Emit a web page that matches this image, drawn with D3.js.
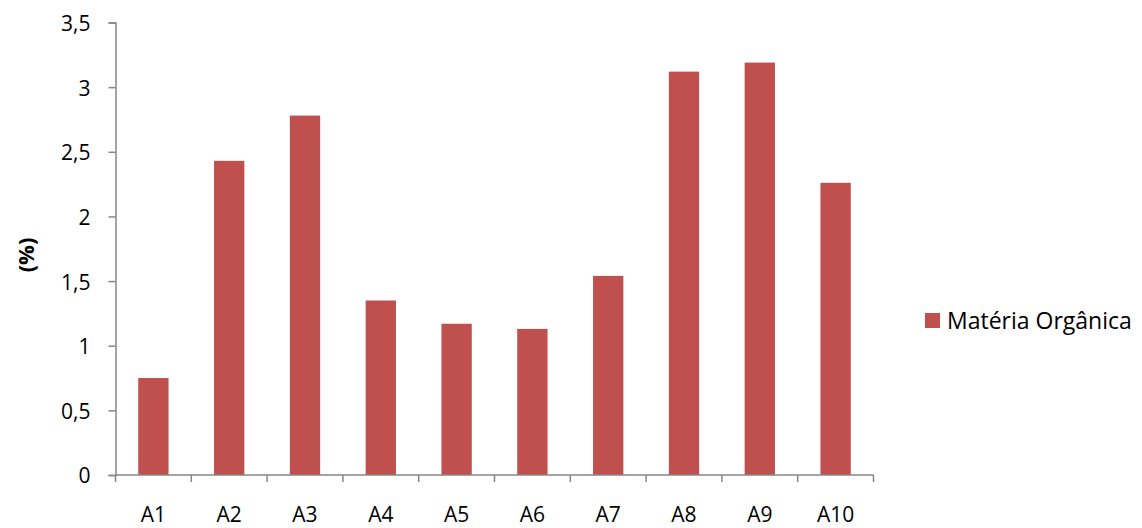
<!DOCTYPE html>
<html>
<head>
<meta charset="utf-8">
<script src="https://cdn.jsdelivr.net/npm/d3@7"></script>
<style>
  body { margin: 0; background: #fff; }
  text { font-family: "Open Sans", Lato, sans-serif; fill: #000; }
</style>
</head>
<body>
<script>
var categories = ["A1", "A2", "A3", "A4", "A5", "A6", "A7", "A8", "A9", "A10"];
var values = [0.75, 2.43, 2.78, 1.35, 1.17, 1.13, 1.54, 3.12, 3.19, 2.26];
var yTicks = [0, 0.5, 1, 1.5, 2, 2.5, 3, 3.5];
var seriesName = "Matéria Orgânica";

var W = 1142, H = 528;
var plotLeft = 115.5, plotRight = 873.5, plotTop = 22.5, plotBottom = 475;

var svg = d3.select("body")
  .append("svg")
  .attr("width", W)
  .attr("height", H);

var x = d3.scaleBand()
  .domain(categories)
  .range([plotLeft, plotRight])
  .paddingInner(0.6)
  .paddingOuter(0.3);

var y = d3.scaleLinear()
  .domain([0, 3.5])
  .range([plotBottom, plotTop]);

// bars
svg.selectAll("rect.bar")
  .data(values)
  .enter()
  .append("rect")
  .attr("class", "bar")
  .attr("x", function (d, i) { return x(categories[i]); })
  .attr("width", x.bandwidth())
  .attr("y", function (d) { return y(d); })
  .attr("height", function (d) { return plotBottom - y(d); })
  .style("fill", "#C0504D");

// y axis
var yAxis = svg.append("g")
  .attr("transform", "translate(" + plotLeft + ",0)")
  .call(d3.axisLeft(y).tickValues(yTicks).tickSize(7).tickSizeOuter(7).tickPadding(18)
    .tickFormat(function (d) { return String(d).replace(".", ","); }));
yAxis.select(".domain").attr("stroke", "#868686").attr("stroke-width", 1.5);
yAxis.selectAll(".tick line").attr("stroke", "#868686").attr("stroke-width", 1.5);
yAxis.selectAll(".tick text").style("font-size", "21px").attr("dy", "0.38em");

// x axis
var xAxis = svg.append("g")
  .attr("transform", "translate(0," + plotBottom + ")");
xAxis.append("line")
  .attr("x1", plotLeft).attr("x2", plotRight)
  .attr("y1", 0).attr("y2", 0)
  .attr("stroke", "#868686").attr("stroke-width", 1.5);
var boundaries = categories.map(function (c) { return x(c) - x.step() * x.paddingInner() / 2; });
boundaries.push(plotRight);
xAxis.selectAll("line.xt")
  .data(boundaries)
  .enter()
  .append("line")
  .attr("class", "xt")
  .attr("x1", function (d) { return d; })
  .attr("x2", function (d) { return d; })
  .attr("y1", 0).attr("y2", 7)
  .attr("stroke", "#868686").attr("stroke-width", 1.5);
xAxis.selectAll("text.xl")
  .data(categories)
  .enter()
  .append("text")
  .attr("class", "xl")
  .attr("x", function (d) { return x(d) + x.bandwidth() / 2; })
  .attr("y", 46.5)
  .style("text-anchor", "middle")
  .style("font-size", "21px")
  .text(function (d) { return d; });

// y axis title
svg.append("text")
  .attr("transform", "translate(26," + 255 + ") rotate(-90)")
  .attr("dy", "0.36em")
  .style("text-anchor", "middle")
  .style("font-size", "22px")
  .style("font-weight", "bold")
  .text("(%)");

// legend
var legend = svg.append("g").attr("transform", "translate(925,313)");
legend.append("rect")
  .attr("width", 15).attr("height", 15)
  .style("fill", "#C0504D");
legend.append("text")
  .attr("x", 22).attr("y", 15.5)
  .style("font-size", "23px")
  .text(seriesName);
</script>
</body>
</html>
